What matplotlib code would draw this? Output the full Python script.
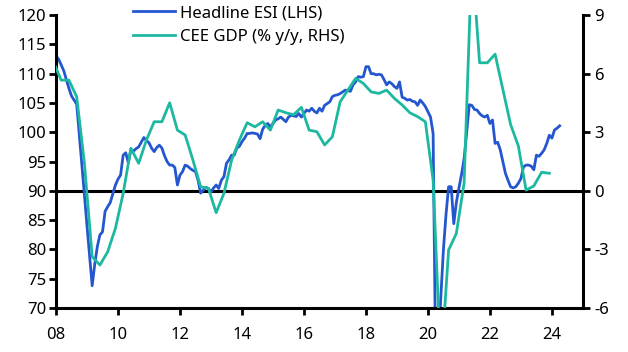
import matplotlib
matplotlib.use("Agg")
import matplotlib.pyplot as plt
import numpy as np
from matplotlib.ticker import FuncFormatter, MultipleLocator

plt.rcParams['font.family'] = ['Noto Sans', 'DejaVu Sans']
plt.rcParams['axes.unicode_minus'] = False

BLUE = '#2356cf'
TEAL = '#1cb9a0'

# Headline ESI, monthly, Jan 2008 - Apr 2024
esi = [
    113.0, 112.5, 111.5, 110.5, 109.0, 107.5, 106.2, 105.5, 104.8, 99.7, 94.5, 89.3,   # 2008
    84.0, 79.0, 73.8, 77.5, 80.5, 82.5, 83.0, 86.5, 87.3, 88.0, 89.5, 91.0,            # 2009
    92.0, 92.7, 96.1, 96.5, 94.8, 97.1, 96.8, 97.2, 97.5, 98.3, 99.1, 98.6,            # 2010
    98.2, 97.3, 96.7, 97.4, 97.8, 97.3, 96.0, 95.0, 94.4, 94.4, 94.0, 91.0,            # 2011
    92.7, 93.3, 94.4, 94.2, 93.8, 93.5, 93.3, 91.8, 89.6, 90.1, 90.6, 90.4,            # 2012
    89.8, 90.5, 91.0, 90.4, 91.8, 92.4, 94.7, 95.3, 96.1, 96.1, 97.3, 97.6,            # 2013
    98.4, 99.0, 99.8, 99.8, 99.9, 99.8, 99.7, 98.9, 100.5, 101.2, 101.5, 100.9,        # 2014
    101.5, 102.1, 102.3, 102.6, 102.2, 101.8, 102.6, 102.9, 102.8, 102.7, 103.2, 102.6,  # 2015
    103.2, 103.8, 103.6, 104.1, 103.6, 103.3, 104.1, 103.6, 104.6, 104.9, 105.2, 106.1,  # 2016
    106.3, 106.4, 106.6, 106.9, 107.2, 107.1, 107.0, 108.1, 108.6, 109.5, 109.4, 109.5,  # 2017
    111.2, 111.2, 110.0, 110.0, 109.8, 109.9, 109.8, 109.0, 108.1, 108.6, 108.3, 107.8,  # 2018
    107.5, 108.6, 106.0, 105.8, 105.5, 105.6, 105.3, 105.2, 104.6, 105.5, 105.0, 104.4,  # 2019
    103.5, 102.6, 99.8, 60.0, 63.0, 72.0, 80.0, 86.0, 90.7, 90.7, 84.4, 88.0,          # 2020
    90.5, 92.8, 95.5, 100.0, 104.7, 104.6, 103.9, 103.8, 103.2, 102.8, 102.6, 102.9,   # 2021
    101.5, 102.1, 98.1, 98.3, 97.0, 95.0, 93.0, 91.8, 90.7, 90.5, 90.7, 91.3,          # 2022
    92.1, 94.1, 94.4, 94.4, 94.2, 93.6, 96.1, 95.9, 96.4, 97.0, 98.1, 99.5,            # 2023
    99.0, 100.4, 100.7, 101.1,                                                         # 2024
]

# CEE GDP % y/y, quarterly, Q4 2007 - Q4 2023 (plotted at quarter end)
gdp = [
    6.6,
    5.67, 5.67, 4.82, 1.41,
    -3.37, -3.8, -3.12, -1.92,
    -0.13, 2.18, 1.41, 2.6,
    3.54, 3.54, 4.51, 3.11,
    2.86, 1.58, 0.21, 0.13,
    -1.12, -0.13, 1.58, 2.6,
    3.49, 3.28, 3.54, 3.11,
    4.14, 4.0, 3.9, 4.28,
    3.11, 3.03, 2.35, 2.77,
    4.56, 5.16, 5.76, 5.5,
    5.07, 4.99, 5.16, 4.74,
    4.4, 4.0, 3.8, 3.54,
    0.55, -9.0, -3.03, -2.18,
    0.4, 12.0, 6.56, 6.56,
    7.0, 5.2, 3.4, 2.3,
    0.04, 0.25, 0.95, 0.9,
]

esi_x = 2008 + np.arange(len(esi)) / 12
gdp_x = 2007 + 11 / 12 + np.arange(len(gdp)) / 4

fig = plt.figure(figsize=(6.28, 3.52), dpi=100)
ax = fig.add_axes([0.0892, 0.125, 0.839, 0.832])
ax2 = ax.twinx()

ax.axhline(90, color='black', lw=2.2, zorder=1)
l1, = ax.plot(esi_x, esi, color=BLUE, lw=2.0, zorder=2, label='Headline ESI (LHS)')
l2, = ax2.plot(gdp_x, gdp, color=TEAL, lw=2.0, zorder=2, label='CEE GDP (% y/y, RHS)')

ax.set_xlim(2008, 2025)
ax.set_ylim(70, 120)
ax2.set_ylim(-6, 9)
ax.yaxis.set_major_locator(MultipleLocator(5))
ax2.yaxis.set_major_locator(MultipleLocator(3))
ax.set_xticks(np.arange(2008, 2025, 2))
ax.xaxis.set_major_formatter(FuncFormatter(lambda v, p: f"{int(round(v)) % 100:02d}"))
ax2.yaxis.set_major_formatter(FuncFormatter(lambda v, p: f"{int(round(v))}"))

for a in (ax, ax2):
    a.spines['top'].set_visible(False)
    for s in ('left', 'right', 'bottom'):
        a.spines[s].set_linewidth(2.2)
ax.spines['right'].set_visible(False)
ax2.spines['left'].set_visible(False)
ax2.spines['bottom'].set_visible(False)

ax.tick_params(axis='both', direction='out', length=5, width=2.0, labelsize=12, colors='black')
ax.tick_params(axis='y', pad=2)
ax.tick_params(axis='x', pad=9)
ax2.tick_params(axis='y', direction='out', length=5, width=2.0, labelsize=12, pad=3)

fig.legend(handles=[l1, l2], loc='upper left', bbox_to_anchor=(0.212, 0.985),
           frameon=False, fontsize=12, handlelength=2.5, handletextpad=0.3,
           labelspacing=0.45, borderpad=0, borderaxespad=0)

fig.savefig('out.png', dpi=100)
